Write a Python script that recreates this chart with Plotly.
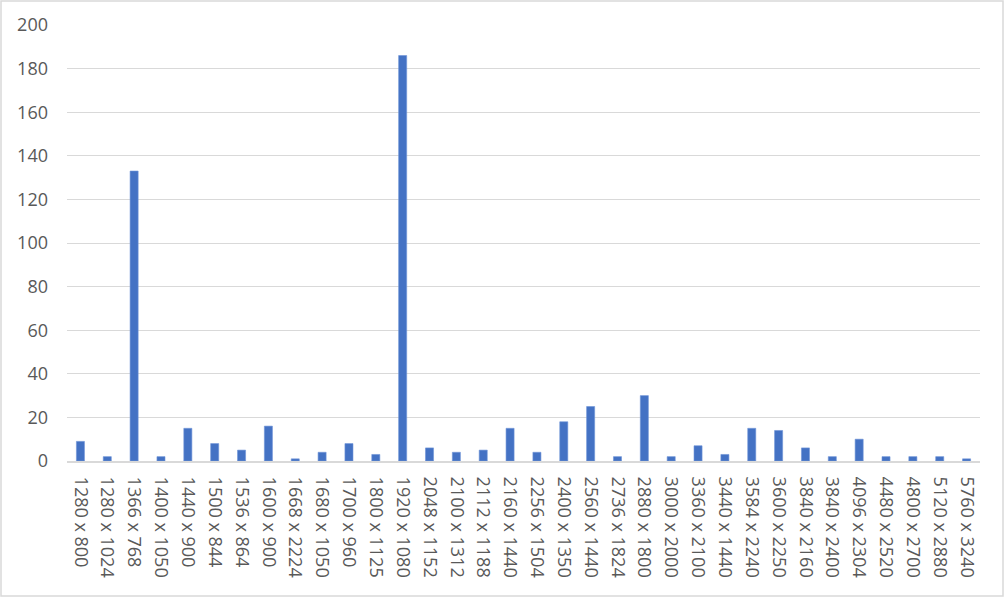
import plotly.graph_objects as go

categories = ["1280 x 800", "1280 x 1024", "1366 x 768", "1400 x 1050", "1440 x 900",
              "1500 x 844", "1536 x 864", "1600 x 900", "1668 x 2224", "1680 x 1050",
              "1700 x 960", "1800 x 1125", "1920 x 1080", "2048 x 1152", "2100 x 1312",
              "2112 x 1188", "2160 x 1440", "2256 x 1504", "2400 x 1350", "2560 x 1440",
              "2736 x 1824", "2880 x 1800", "3000 x 2000", "3360 x 2100", "3440 x 1440",
              "3584 x 2240", "3600 x 2250", "3840 x 2160", "3840 x 2400", "4096 x 2304",
              "4480 x 2520", "4800 x 2700", "5120 x 2880", "5760 x 3240"]
values = [9, 2, 133, 2, 15, 8, 5, 16, 1, 4, 8, 3, 186, 6, 4, 5, 15, 4, 18, 25,
          2, 30, 2, 7, 3, 15, 14, 6, 2, 10, 2, 2, 2, 1]
y_ticks = [0, 20, 40, 60, 80, 100, 120, 140, 160, 180, 200]

W, H = 1004, 597
L, R, T, B = 67, 24, 25, 136
pw, ph = W - L - R, H - T - B

fig = go.Figure(go.Bar(
    x=categories, y=values,
    marker=dict(color="#4472C4", line=dict(color="#6f93d6", width=0.6)),
    width=0.3,
))

font = dict(family="Open Sans, Liberation Sans, sans-serif", size=18, color="#595959")

fig.update_layout(
    width=W, height=H,
    margin=dict(l=L, r=R, t=T, b=B),
    paper_bgcolor="white", plot_bgcolor="white",
    showlegend=False,
    font=font,
    xaxis=dict(
        type="category", tickangle=90, showgrid=False, ticks="",
        showline=True, linecolor="#d9d9d9", linewidth=2,
        tickfont=font, ticklabelstandoff=10, automargin=False,
    ),
    yaxis=dict(
        range=[0, 200], tickvals=y_ticks, showgrid=True, gridcolor="#d9d9d9",
        gridwidth=1, zeroline=False, showline=False, ticks="",
        tickfont=font, ticklabelstandoff=18, automargin=False,
    ),
    shapes=[dict(
        type="rect", xref="paper", yref="paper",
        x0=(1 - L) / pw, x1=(W - 1 - L) / pw,
        y0=(H - B - (H - 1)) / ph, y1=(H - B - 1) / ph,
        line=dict(color="#d9d9d9", width=1.5), fillcolor="rgba(0,0,0,0)",
        layer="below",
    )],
)

fig.write_html(
    "out.html",
    config={"displayModeBar": False},
    post_script="document.body.style.margin='0';document.body.style.overflow='hidden';",
)
